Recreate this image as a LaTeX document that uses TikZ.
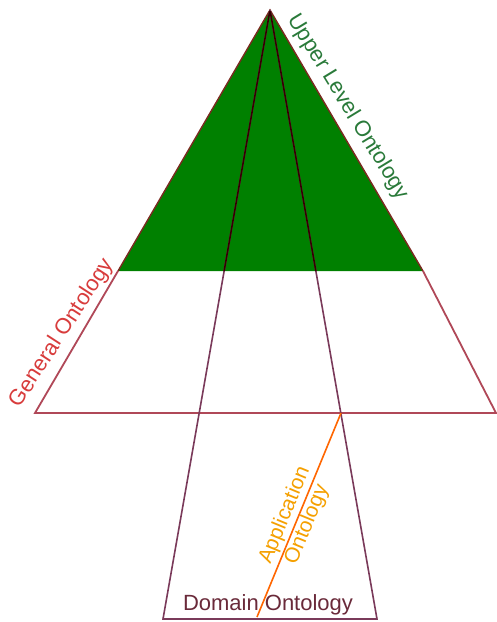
\documentclass[tikz,border=0pt]{standalone}
\usepackage{fontspec}
\setmainfont{Liberation Sans}
\definecolor{topgreen}{HTML}{008000}
\definecolor{greentext}{HTML}{2A7A3A}
\definecolor{redtext}{HTML}{D83C3C}
\definecolor{orangetext}{HTML}{F5A000}
\definecolor{orangeline}{HTML}{FF6600}
\definecolor{domaintext}{HTML}{6A2A3A}
\definecolor{edge}{HTML}{B04858}
\definecolor{inner}{HTML}{7A3A5A}
\definecolor{darkedge}{HTML}{7A2A20}
\tikzset{
  lbl/.style={inner sep=0pt, font=\fontsize{22}{26}\selectfont},
  outline/.style={draw=edge, line width=1.8pt},
  innerline/.style={draw=inner, line width=1.6pt},
}
\begin{document}
\begin{tikzpicture}[x=1pt,y=-1pt]
\useasboundingbox (0,0) rectangle (497,622);
\fill[white] (0,0) rectangle (497,622);
\coordinate (A) at (270,10);
\coordinate (GL) at (118,271);
\coordinate (GR) at (423,271);
\coordinate (BL) at (35,413);
\coordinate (BR) at (496,413);
\coordinate (DL) at (163,619);
\coordinate (DR) at (377,619);
\coordinate (O1) at (341,413);
\coordinate (O2) at (257,617);
% green triangle
\fill[topgreen] (A) -- (GL) -- (GR) -- cycle;
\draw[darkedge, line width=1.4pt] (GL) -- (A) -- (GR);
% general ontology trapezoid
\draw[outline] (GL) -- (BL) -- (BR) -- (GR);
% domain lines
\draw[innerline] (A) -- (DL) -- (DR) -- (A);
\begin{scope}
\clip (A) -- (GL) -- (GR) -- cycle;
\draw[black!80!red, line width=1.6pt] (A) -- (DL) (A) -- (DR);
\end{scope}
% application line
\draw[orangeline, line width=1.6pt] (O1) -- (O2);
% labels
\node[lbl, text=greentext, rotate=-58.6] (ulo) at (348,107) {Upper Level Ontology};
\node[lbl, text=redtext, rotate=57] (go) at (62,333) {General Ontology};
\node[lbl, text=orangetext, rotate=67.6, align=center, font=\fontsize{21}{24}\selectfont] (ao) at (296,520) {Application\\Ontology};
\node[lbl, text=domaintext] (dom) at (268,605) {Domain Ontology};
\end{tikzpicture}
\end{document}
